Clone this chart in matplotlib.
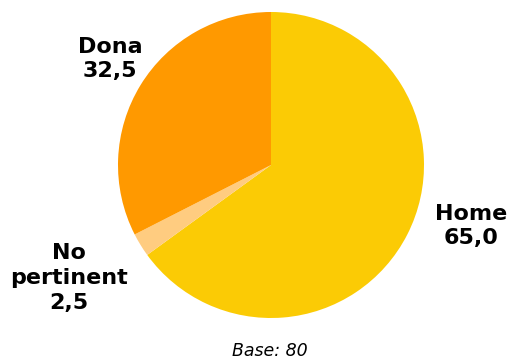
import matplotlib.pyplot as plt

labels = ["Home", "No\npertinent", "Dona"]
values = [65.0, 2.5, 32.5]
colors = ["#FBCB05", "#FFCC80", "#FF9900"]
base = 80

W, H = 509, 363
fig = plt.figure(figsize=(W / 100, H / 100), dpi=100)

# pie centred at (271, 165) px with radius 153 px
cx, cy, r = 271, 165, 153
ax = fig.add_axes([(cx - r) / W, (H - cy - r) / H, 2 * r / W, 2 * r / H])
ax.pie(values, colors=colors, startangle=90, counterclock=False, radius=1.0,
       wedgeprops=dict(linewidth=0))
ax.set_xlim(-1, 1)
ax.set_ylim(-1, 1)
ax.set_aspect("auto")
ax.axis("off")


def px(x, y):
    return x / W, 1 - y / H


def label_text(i):
    return f"{labels[i]}\n{values[i]:.1f}".replace(".", ",")


font = dict(fontsize=16, fontweight="bold", color="black", family="DejaVu Sans",
            ha="center", va="center", multialignment="center", linespacing=1.3)
fig.text(*px(471, 226), label_text(0), **font)
fig.text(*px(110, 59), label_text(2), **font)
fig.text(*px(69, 278), label_text(1), **font)

fig.text(*px(270, 351), f"Base: {base}", ha="center", va="center",
         fontsize=12.5, style="italic", family="DejaVu Sans")

fig.savefig("out.png", dpi=100)
